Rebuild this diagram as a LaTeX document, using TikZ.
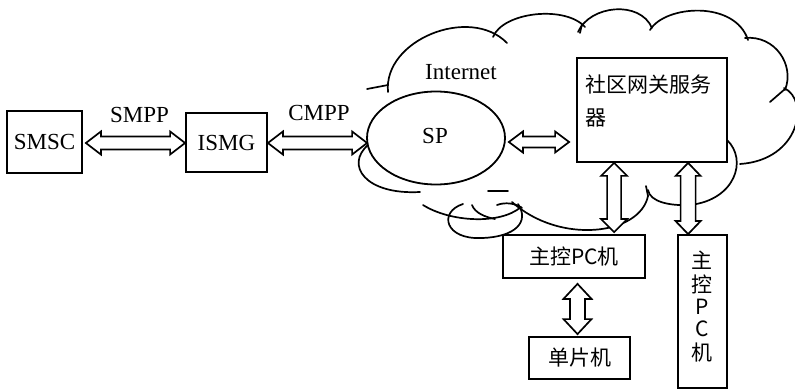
\documentclass[tikz,border=0pt]{standalone}
\usepackage{fontspec}
\setmainfont{Liberation Serif}
\newfontfamily\cjk{Noto Sans CJK SC}
\usetikzlibrary{calc,backgrounds,shapes.geometric}

\tikzset{
  box/.style={draw, line width=1.8pt, fill=white, inner sep=0pt},
  lbl/.style={font=\fontsize{23}{24}\selectfont, inner sep=0pt},
  cjklbl/.style={font=\cjk\fontsize{21}{24}\selectfont, inner sep=0pt},
  cloudline/.style={line width=1.7pt, line cap=round},
  dblarr/.style={draw, line width=1.7pt, fill=white, line join=miter},
}

% horizontal double arrow: #1 left tip, #2 right tip (x only), #3 head length, #4 head half width, #5 shaft half width
\newcommand\hdarrow[5]{%
  \path[dblarr] let \p1=(#1), \p2=(#2) in
    (\x1,\y1) -- (\x1+#3,\y1+#4) -- (\x1+#3,\y1+#5) -- (\x2-#3,\y1+#5) -- (\x2-#3,\y1+#4)
    -- (\x2,\y1) -- (\x2-#3,\y1-#4) -- (\x2-#3,\y1-#5) -- (\x1+#3,\y1-#5) -- (\x1+#3,\y1-#4) -- cycle;}
% vertical double arrow: #1 top tip, #2 bottom tip (y only)
\newcommand\vdarrow[5]{%
  \path[dblarr] let \p1=(#1), \p2=(#2) in
    (\x1,\y1) -- (\x1+#4,\y1-#3) -- (\x1+#5,\y1-#3) -- (\x1+#5,\y2+#3) -- (\x1+#4,\y2+#3)
    -- (\x1,\y2) -- (\x1-#4,\y2+#3) -- (\x1-#5,\y2+#3) -- (\x1-#5,\y1-#3) -- (\x1-#4,\y1-#3) -- cycle;}

\begin{document}
\begin{tikzpicture}[x=1pt,y=-1pt]
\useasboundingbox (0,0) rectangle (795,390);

% nodes
\node[box, lbl, minimum width=75pt, minimum height=62pt] (smsc) at (44.5,142) {SMSC};
\node[box, lbl, minimum width=81pt, minimum height=59pt] (ismg) at (226.5,142.5) {ISMG};
\node[draw, line width=1.8pt, fill=white, ellipse, inner sep=0pt,
      minimum width=138pt, minimum height=93pt] (sp) at (436,138) {};
\node[lbl] (spt) at (435,136) {SP};
\node[lbl] (inet) at (461,72) {Internet};
\node[box, minimum width=150pt, minimum height=104pt] (gw) at (652,110) {};
\node[cjklbl, font=\cjk\fontsize{21}{33}\selectfont, align=left, anchor=north west]
      (gwt) at (585,75) {社区网关服务\\器};
\node[box, cjklbl, minimum width=142pt, minimum height=43pt] (pc1) at (574,256.5) {主控PC机};
\node[box, cjklbl, minimum width=101pt, minimum height=42pt] (mcu) at (579.5,358) {单片机};
\node[box, minimum width=49pt, minimum height=153pt] (pc2) at (702.5,311.5) {};
\node[cjklbl, align=center, font=\cjk\fontsize{21}{22}\selectfont] (pc2t) at (702,307) {主\\[2pt]控\\P\\C\\[2pt]机};

\node[lbl] (smpp) at (139.5,115) {SMPP};
\node[lbl] (cmpp) at (319,113) {CMPP};

% cloud outline
\begin{scope}[on background layer]
  \draw[cloudline] (367,89) -- (388,85);
  \draw[cloudline] (388,92) .. controls (383,40) and (470,5) .. (507,43);
  \draw[cloudline] (493,37) .. controls (503,12) and (565,5) .. (585,27);
  \draw[cloudline] (582,24) -- (580,33);
  \draw[cloudline] (578,32) .. controls (590,5) and (640,0) .. (652,28);
  \draw[cloudline] (650,30) .. controls (665,5) and (735,0) .. (748,40);
  \draw[cloudline] (745,38) .. controls (775,35) and (795,65) .. (785,90);
  \draw[cloudline] (770,102) -- (785,89);
  \draw[cloudline] (784,88) .. controls (810,100) and (800,160) .. (740,164);
  \draw[cloudline] (727,140) .. controls (748,160) and (735,200) .. (690,205)
                   .. controls (670,206) and (650,202) .. (648,190);
  \draw[cloudline] (646,186) -- (648,196);
  \draw[cloudline] (648,196) .. controls (640,235) and (560,245) .. (512,202);
  \draw[cloudline] (423,205) .. controls (450,222) and (500,225) .. (521,207);
  \draw[cloudline] (463,204) .. controls (438,212) and (445,240) .. (482,238)
                   .. controls (515,237) and (530,222) .. (518,204);
  \draw[cloudline] (472,205) .. controls (475,213) and (485,217) .. (495,219);
  \draw[cloudline] (497,205) .. controls (505,202) and (515,203) .. (522,208);
  \draw[cloudline] (488,191) -- (508,191);
  \draw[cloudline] (368,145) .. controls (345,165) and (365,195) .. (420,192);
\end{scope}

% connectors
\hdarrow{$(smsc.east)+(3,1)$}{ismg.west}{15pt}{11.5pt}{6.5pt}
\hdarrow{$(ismg.east)+(0,0.5)$}{$(sp.west)+(1,0)$}{15pt}{11.5pt}{6.5pt}
\hdarrow{$(sp.east)+(3,4)$}{$(gw.west)+(-7,0)$}{14pt}{10.5pt}{5.5pt}
\vdarrow{$(gw.south west)+(38,0)$}{$(pc1.north)+(0,-2)$}{13pt}{13pt}{7pt}
\vdarrow{$(gw.south west)+(112,0)$}{pc2.north}{13pt}{12.5pt}{7.5pt}
\vdarrow{$(pc1.south)+(3.5,5)$}{$(mcu.north)+(0,-2)$}{15pt}{14pt}{7.5pt}
\end{tikzpicture}
\end{document}
